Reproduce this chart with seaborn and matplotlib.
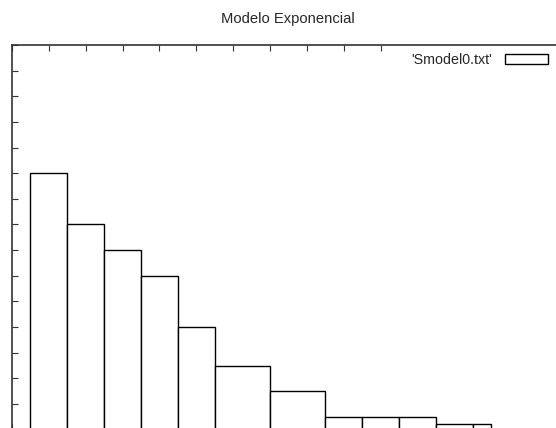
import matplotlib
matplotlib.use("Agg")
import matplotlib.pyplot as plt
import seaborn as sns
import numpy as np

# box edges (x) and heights
bin_edges = [0.5, 1.5, 2.5, 3.5, 4.5, 5.5, 7.0, 8.5, 9.5, 10.5, 11.5, 12.5, 13.0]
heights = [10, 8, 7, 6, 4, 2.5, 1.5, 0.5, 0.5, 0.5, 0.2, 0.2]
series_label = "'Smodel0.txt'"
title = "Modelo Exponencial"

sns.set_theme(style="white")
plt.rcParams['font.family'] = ['Liberation Sans', 'DejaVu Sans']

W, H = 556, 428
fig = plt.figure(figsize=(W / 100, H / 100), dpi=100)
# plot frame runs a little past the right and bottom edges of the image
left, right, top, bottom = 12, 565, 45, 429.6
ax = fig.add_axes([left / W, 1 - bottom / H, (right - left) / W, (bottom - top) / H])

centers = [(a + b) / 2 for a, b in zip(bin_edges[:-1], bin_edges[1:])]
sns.histplot(x=centers, weights=heights, bins=bin_edges, stat="count",
             color="white", edgecolor="black", linewidth=1.0, alpha=1,
             label=series_label, ax=ax)

ax.set_xlim(0, 15)
ax.set_ylim(0, 15)
ax.set_xticks(np.arange(0, 11))
ax.set_yticks(np.arange(0, 16))
ax.tick_params(direction="in", length=4, width=0.8, color="#333333",
               top=True, right=True, bottom=True, left=True,
               labelleft=False, labelbottom=False)
ax.set_xlabel("")
ax.set_ylabel("")
for s in ax.spines.values():
    s.set_color("#333333")
    s.set_linewidth(1.2)

ax.legend(loc="upper right", bbox_to_anchor=(547.5 / W, 1 - 53 / H),
          bbox_transform=fig.transFigure, frameon=False, markerfirst=False,
          fontsize=10.3, borderpad=0, borderaxespad=0, handlelength=3.0,
          handleheight=0.62, handletextpad=0.9)

fig.text(288 / W, 1 - 19.5 / H, title, ha="center", va="center", fontsize=10.6)

fig.savefig("out.png", dpi=100)
